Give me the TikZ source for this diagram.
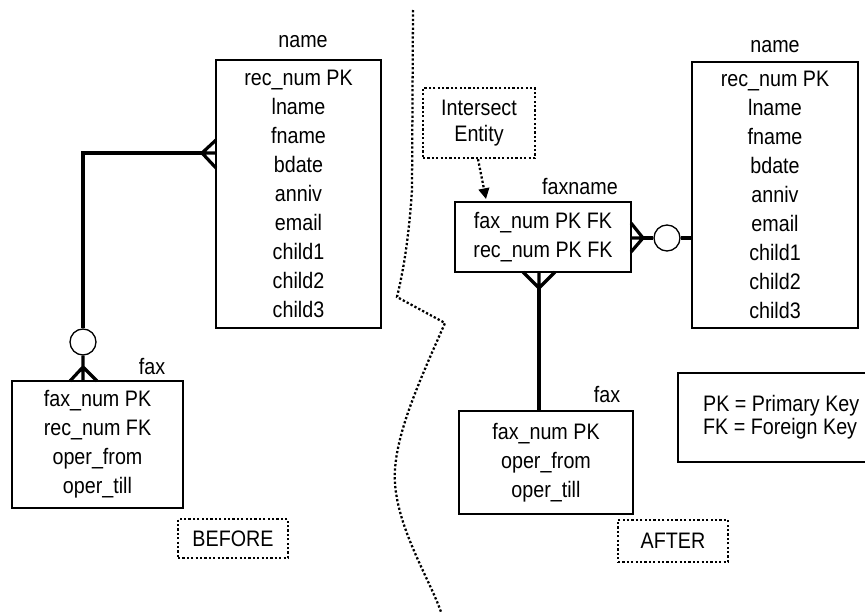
\documentclass[tikz,border=0pt]{standalone}
\usepackage{fontspec}
\setmainfont{Liberation Sans}[FakeStretch=0.88]
\usetikzlibrary{arrows.meta}

\begin{document}
\begin{tikzpicture}[x=0.75pt,y=0.75pt,yscale=-1,xscale=1,
	entity/.style={draw, line width=1.75pt, inner sep=0pt, align=center, font=\fontsize{16.8}{21.8}\selectfont},
	lbl/.style={inner sep=0pt, font=\fontsize{16.8}{18}\selectfont},
	dotbox/.style={draw, line width=1.7pt, dash pattern=on 1.7pt off 1.6pt, inner sep=0pt, align=center, font=\fontsize{16.8}{20}\selectfont},
	conn/.style={line width=2.4pt},
	opt/.style={circle, draw, line width=1pt, fill=white, minimum size=19.5pt, inner sep=0pt},
	divider/.style={line width=1.7pt, dash pattern=on 1.7pt off 1.6pt}]
	\useasboundingbox (0,0) rectangle (865,614);
	
	%Divider between the two halves
	\draw[divider] (413,10) -- (412,190) .. controls (408,250) and (401,280) .. (397,297) -- (445,323) .. controls (420,380) and (392,440) .. (395,483) .. controls (398,530) and (430,580) .. (441,612) ;
	
	%BEFORE: name and fax
	\node[entity, minimum width=123.75pt, minimum height=201pt] (nameA) at (298.5,194) {rec\_num PK\\lname\\fname\\bdate\\anniv\\email\\child1\\child2\\child3};
	\node[lbl] (nameAlbl) at (303,42) {name};
	\node[entity, minimum width=128.25pt, minimum height=95.25pt] (faxA) at (97.5,444.5) {fax\_num PK\\rec\_num FK\\oper\_from\\oper\_till};
	\node[lbl] (faxAlbl) at (152,367) {fax};
	\node[opt] (optA) at (83,342) {};
	\node[dotbox, minimum width=82.5pt, minimum height=29.25pt] (before) at (233,538.5) {BEFORE};
	
	%crow's feet, BEFORE
	\coordinate (heelA) at (202,153);
	\draw[conn] (heelA) -| (optA.north) ;
	\draw[conn] (heelA) -- ++(14,-13) (heelA) -- ++(14,0) (heelA) -- ++(14,15) ;
	\coordinate (heelB) at (83,367);
	\draw[conn] (optA.south) -- (heelB) -- ++(0,14) (heelB) -- ++(-13,14) (heelB) -- ++(14,14) ;
	
	%AFTER: faxname, fax, name
	\node[entity, minimum width=132pt, minimum height=52.5pt] (faxname) at (543,237) {fax\_num PK FK\\rec\_num PK FK};
	\node[lbl] (faxnamelbl) at (580,187) {faxname};
	\node[entity, minimum width=130.5pt, minimum height=77.25pt] (faxB) at (546,462.5) {fax\_num PK\\oper\_from\\oper\_till};
	\node[lbl] (faxBlbl) at (607,395) {fax};
	\node[entity, minimum width=124.5pt, minimum height=199.5pt] (nameB) at (775,195) {rec\_num PK\\lname\\fname\\bdate\\anniv\\email\\child1\\child2\\child3};
	\node[lbl] (nameBlbl) at (775,47) {name};
	\node[opt] (optB) at (667,238) {};
	\node[dotbox, minimum width=84pt, minimum height=52.5pt] (intersect) at (479,123) {Intersect\\Entity};
	\node[dotbox, minimum width=82.5pt, minimum height=31.5pt] (after) at (673,541) {AFTER};
	\node[entity, anchor=west, align=left, inner xsep=18.75pt, minimum height=66.75pt, font=\fontsize{16.8}{17.3}\selectfont] (keys) at (677,417.5) {PK = Primary Key\\FK = Foreign Key};
	
	%crow's feet, AFTER
	\coordinate (heelC) at (539,288);
	\draw[conn] (heelC) -- (heelC |- faxB.north) ;
	\draw[conn] (heelC) -- ++(-16,-16) (heelC) -- ++(0,-16) (heelC) -- ++(16,-16) ;
	\coordinate (heelD) at (643,238);
	\draw[conn] (heelD) -- (optB.west) ;
	\draw[conn] (heelD) -- ++(-12,-15) (heelD) -- ++(-12,0) (heelD) -- ++(-12,14) ;
	\draw[conn] (optB.east) -- (optB.east -| nameB.west) ;
	
	%Intersect entity pointer
	\coordinate (tipE) at (486,199);
	\draw[divider, -{Triangle[length=8pt,width=8pt]}] ([xshift=-0.75pt]intersect.south) -- (tipE) ;
	
\end{tikzpicture}
\end{document}
